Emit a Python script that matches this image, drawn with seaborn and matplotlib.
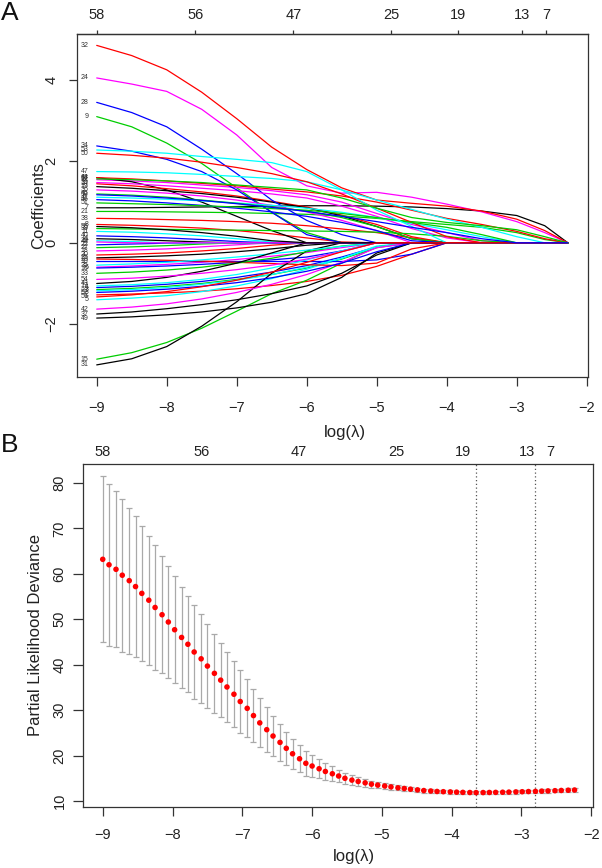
import matplotlib
matplotlib.use("Agg")
import matplotlib.pyplot as plt
import numpy as np
import pandas as pd
import seaborn as sns

sns.set_theme(style="white")
plt.rcParams['font.family'] = ['Liberation Sans', 'DejaVu Sans']

# ---- panel A: lasso coefficient paths, read at these log(lambda) knots ----
path_loglam = [-9.0, -8.5, -8.0, -7.5, -7.0, -6.5, -6.0, -5.5, -5.0, -4.5, -4.0, -3.5, -3.0, -2.6, -2.27]

coef_v1 = [0.10, 0.08, 0.05, 0.02, 0.00, 0.00, 0.00, 0.00, 0.00, 0.00, 0.00, 0.00, 0.00, 0.00, 0.00]
coef_v2 = [-1.28, -1.26, -1.23, -1.19, -1.13, -1.05, -0.95, -0.80, -0.58, -0.28, 0.00, 0.00, 0.00, 0.00, 0.00]
coef_v3 = [-1.15, -1.12, -1.07, -1.00, -0.90, -0.78, -0.62, -0.40, -0.12, 0.00, 0.00, 0.00, 0.00, 0.00, 0.00]
coef_v4 = [-1.10, -1.07, -1.02, -0.95, -0.85, -0.72, -0.56, -0.35, -0.10, 0.00, 0.00, 0.00, 0.00, 0.00, 0.00]
coef_v5 = [-1.40, -1.36, -1.30, -1.20, -1.06, -0.88, -0.65, -0.38, -0.08, 0.00, 0.00, 0.00, 0.00, 0.00, 0.00]
coef_v6 = [-0.60, -0.57, -0.53, -0.48, -0.41, -0.33, -0.24, -0.12, 0.00, 0.00, 0.00, 0.00, 0.00, 0.00, 0.00]
coef_v7 = [0.86, 0.86, 0.87, 0.88, 0.89, 0.90, 0.91, 0.91, 0.90, 0.88, 0.84, 0.78, 0.67, 0.42, 0.00]
coef_v8 = [0.45, 0.43, 0.40, 0.36, 0.30, 0.22, 0.12, 0.02, 0.00, 0.00, 0.00, 0.00, 0.00, 0.00, 0.00]
coef_v9 = [3.10, 2.85, 2.45, 1.95, 1.35, 0.75, 0.25, 0.00, 0.00, 0.00, 0.00, 0.00, 0.00, 0.00, 0.00]
coef_v10 = [-0.46, -0.46, -0.46, -0.46, -0.46, -0.46, -0.46, -0.46, -0.42, -0.28, 0.00, 0.00, 0.00, 0.00, 0.00]
coef_v11 = [0.28, 0.26, 0.22, 0.17, 0.10, 0.02, 0.00, 0.00, 0.00, 0.00, 0.00, 0.00, 0.00, 0.00, 0.00]
coef_v12 = [1.55, 1.52, 1.48, 1.42, 1.36, 1.28, 1.18, 1.00, 0.72, 0.45, 0.25, 0.05, 0.00, 0.00, 0.00]
coef_v13 = [1.60, 1.50, 1.30, 1.00, 0.65, 0.30, 0.00, 0.00, 0.00, 0.00, 0.00, 0.00, 0.00, 0.00, 0.00]
coef_v14 = [1.45, 1.40, 1.33, 1.25, 1.15, 1.02, 0.88, 0.68, 0.45, 0.15, 0.00, 0.00, 0.00, 0.00, 0.00]
coef_v15 = [-2.86, -2.70, -2.45, -2.10, -1.68, -1.25, -0.92, -0.50, -0.10, 0.00, 0.00, 0.00, 0.00, 0.00, 0.00]
coef_v16 = [-0.62, -0.60, -0.57, -0.53, -0.48, -0.42, -0.35, -0.20, 0.00, 0.00, 0.00, 0.00, 0.00, 0.00, 0.00]
coef_v17 = [-1.06, -1.03, -0.98, -0.90, -0.78, -0.62, -0.42, -0.20, 0.00, 0.00, 0.00, 0.00, 0.00, 0.00, 0.00]
coef_v18 = [-0.20, -0.18, -0.15, -0.10, -0.05, 0.00, 0.00, 0.00, 0.00, 0.00, 0.00, 0.00, 0.00, 0.00, 0.00]
coef_v19 = [1.38, 1.34, 1.28, 1.21, 1.12, 1.00, 0.86, 0.66, 0.40, 0.10, 0.00, 0.00, 0.00, 0.00, 0.00]
coef_v20 = [-0.30, -0.28, -0.25, -0.20, -0.14, -0.06, 0.00, 0.00, 0.00, 0.00, 0.00, 0.00, 0.00, 0.00, 0.00]
coef_v21 = [0.77, 0.77, 0.76, 0.75, 0.74, 0.72, 0.70, 0.66, 0.60, 0.52, 0.45, 0.38, 0.25, 0.08, 0.00]
coef_v22 = [-0.05, -0.03, -0.01, 0.00, 0.00, 0.00, 0.00, 0.00, 0.00, 0.00, 0.00, 0.00, 0.00, 0.00, 0.00]
coef_v23 = [-1.18, -1.15, -1.10, -1.02, -0.92, -0.78, -0.60, -0.38, -0.10, 0.00, 0.00, 0.00, 0.00, 0.00, 0.00]
coef_v24 = [4.05, 3.90, 3.72, 3.28, 2.65, 1.85, 1.40, 1.22, 1.24, 1.12, 0.95, 0.76, 0.52, 0.25, 0.00]
coef_v25 = [-0.37, -0.35, -0.32, -0.28, -0.22, -0.15, -0.06, 0.00, 0.00, 0.00, 0.00, 0.00, 0.00, 0.00, 0.00]
coef_v26 = [-0.40, -0.41, -0.43, -0.45, -0.48, -0.51, -0.54, -0.56, -0.50, -0.15, 0.00, 0.00, 0.00, 0.00, 0.00]
coef_v27 = [-0.12, -0.10, -0.07, -0.03, 0.00, 0.00, 0.00, 0.00, 0.00, 0.00, 0.00, 0.00, 0.00, 0.00, 0.00]
coef_v28 = [3.45, 3.20, 2.85, 2.30, 1.70, 1.05, 0.55, 0.20, 0.00, 0.00, 0.00, 0.00, 0.00, 0.00, 0.00]
coef_v29 = [0.05, 0.03, 0.00, 0.00, 0.00, 0.00, 0.00, 0.00, 0.00, 0.00, 0.00, 0.00, 0.00, 0.00, 0.00]
coef_v30 = [1.48, 1.45, 1.40, 1.34, 1.28, 1.20, 1.10, 0.90, 0.65, 0.35, 0.12, 0.00, 0.00, 0.00, 0.00]
coef_v31 = [-3.00, -2.85, -2.55, -2.05, -1.45, -0.75, -0.20, 0.00, 0.00, 0.00, 0.00, 0.00, 0.00, 0.00, 0.00]
coef_v32 = [4.85, 4.60, 4.25, 3.70, 3.05, 2.35, 1.80, 1.35, 1.05, 0.97, 0.90, 0.78, 0.58, 0.30, 0.00]
coef_v33 = [-0.75, -0.72, -0.67, -0.60, -0.50, -0.38, -0.22, -0.08, 0.00, 0.00, 0.00, 0.00, 0.00, 0.00, 0.00]
coef_v34 = [2.38, 2.25, 2.05, 1.75, 1.30, 0.75, 0.20, 0.00, 0.00, 0.00, 0.00, 0.00, 0.00, 0.00, 0.00]
coef_v35 = [-0.55, -0.52, -0.48, -0.42, -0.35, -0.27, -0.18, -0.09, 0.00, 0.00, 0.00, 0.00, 0.00, 0.00, 0.00]
coef_v36 = [1.30, 1.27, 1.22, 1.15, 1.05, 0.92, 0.76, 0.55, 0.30, 0.00, 0.00, 0.00, 0.00, 0.00, 0.00]
coef_v37 = [-1.75, -1.70, -1.62, -1.52, -1.40, -1.25, -1.06, -0.75, -0.30, 0.00, 0.00, 0.00, 0.00, 0.00, 0.00]
coef_v38 = [0.60, 0.59, 0.57, 0.55, 0.52, 0.48, 0.42, 0.34, 0.25, 0.12, 0.00, 0.00, 0.00, 0.00, 0.00]
coef_v39 = [0.35, 0.34, 0.33, 0.32, 0.31, 0.30, 0.29, 0.28, 0.26, 0.22, 0.16, 0.05, 0.00, 0.00, 0.00]
coef_v40 = [0.17, 0.15, 0.12, 0.08, 0.03, 0.00, 0.00, 0.00, 0.00, 0.00, 0.00, 0.00, 0.00, 0.00, 0.00]
coef_v41 = [1.12, 1.10, 1.07, 1.03, 0.98, 0.92, 0.85, 0.75, 0.62, 0.48, 0.32, 0.15, 0.00, 0.00, 0.00]
coef_v42 = [-1.63, -1.58, -1.50, -1.38, -1.22, -1.02, -0.78, -0.48, -0.12, 0.00, 0.00, 0.00, 0.00, 0.00, 0.00]
coef_v43 = [-1.00, -0.95, -0.85, -0.70, -0.50, -0.25, 0.00, 0.00, 0.00, 0.00, 0.00, 0.00, 0.00, 0.00, 0.00]
coef_v44 = [1.60, 1.57, 1.52, 1.46, 1.40, 1.32, 1.25, 1.15, 1.00, 0.80, 0.60, 0.45, 0.28, 0.10, 0.00]
coef_v45 = [1.20, 1.17, 1.12, 1.05, 0.97, 0.88, 0.78, 0.62, 0.40, 0.10, 0.00, 0.00, 0.00, 0.00, 0.00]
coef_v46 = [1.06, 1.03, 0.98, 0.92, 0.85, 0.76, 0.65, 0.50, 0.30, 0.05, 0.00, 0.00, 0.00, 0.00, 0.00]
coef_v47 = [1.75, 1.74, 1.72, 1.68, 1.63, 1.58, 1.50, 1.30, 1.05, 0.82, 0.58, 0.38, 0.15, 0.00, 0.00]
coef_v48 = [0.02, 0.00, 0.00, 0.00, 0.00, 0.00, 0.00, 0.00, 0.00, 0.00, 0.00, 0.00, 0.00, 0.00, 0.00]
coef_v49 = [-1.85, -1.82, -1.77, -1.70, -1.60, -1.46, -1.25, -0.85, -0.25, 0.00, 0.00, 0.00, 0.00, 0.00, 0.00]
coef_v50 = [2.20, 2.15, 2.08, 1.98, 1.85, 1.70, 1.50, 1.20, 0.85, 0.50, 0.15, 0.00, 0.00, 0.00, 0.00]
coef_v51 = [0.98, 0.96, 0.94, 0.91, 0.88, 0.84, 0.80, 0.72, 0.62, 0.50, 0.38, 0.20, 0.00, 0.00, 0.00]
coef_v52 = [-1.22, -1.19, -1.14, -1.07, -0.98, -0.86, -0.70, -0.50, -0.22, 0.00, 0.00, 0.00, 0.00, 0.00, 0.00]
coef_v53 = [2.28, 2.25, 2.20, 2.12, 2.05, 1.97, 1.75, 1.30, 0.80, 0.40, 0.00, 0.00, 0.00, 0.00, 0.00]
coef_v54 = [-0.90, -0.87, -0.82, -0.75, -0.66, -0.55, -0.40, -0.22, 0.00, 0.00, 0.00, 0.00, 0.00, 0.00, 0.00]
coef_v55 = [0.40, 0.37, 0.32, 0.25, 0.16, 0.05, 0.00, 0.00, 0.00, 0.00, 0.00, 0.00, 0.00, 0.00, 0.00]
coef_v56 = [-1.33, -1.28, -1.20, -1.08, -0.92, -0.72, -0.48, -0.22, 0.00, 0.00, 0.00, 0.00, 0.00, 0.00, 0.00]
coef_v57 = [1.57, 1.55, 1.52, 1.48, 1.42, 1.36, 1.30, 1.10, 0.85, 0.62, 0.50, 0.42, 0.32, 0.15, 0.00]
coef_v58 = [1.18, 1.15, 1.10, 1.04, 0.96, 0.87, 0.77, 0.65, 0.52, 0.38, 0.25, 0.10, 0.00, 0.00, 0.00]

# number of non-zero coefficients printed along the top of both panels
top_loglam = [-9.0, -7.59, -6.19, -4.79, -3.84, -2.92, -2.58]
top_nonzero = ["58", "56", "47", "25", "19", "13", "7"]

# ---- panel B: cross-validated partial likelihood deviance ----
cv_loglam = [-9.00, -8.91, -8.81, -8.72, -8.62, -8.53, -8.44, -8.34, -8.25, -8.15,
             -8.06, -7.97, -7.87, -7.78, -7.69, -7.59, -7.50, -7.40, -7.31, -7.22,
             -7.12, -7.03, -6.93, -6.84, -6.75, -6.65, -6.56, -6.46, -6.37, -6.28,
             -6.18, -6.09, -6.00, -5.90, -5.81, -5.71, -5.62, -5.53, -5.43, -5.34,
             -5.24, -5.15, -5.06, -4.96, -4.87, -4.77, -4.68, -4.59, -4.49, -4.40,
             -4.30, -4.21, -4.12, -4.02, -3.93, -3.84, -3.74, -3.65, -3.55, -3.46,
             -3.37, -3.27, -3.18, -3.08, -2.99, -2.90, -2.80, -2.71, -2.62, -2.52,
             -2.43, -2.33, -2.24]
cv_mean = [63.2, 62.0, 61.0, 59.7, 58.5, 57.2, 55.7, 54.2, 52.6, 51.0,
           49.4, 47.7, 46.0, 44.5, 42.8, 41.3, 39.7, 38.1, 36.6, 35.1,
           33.5, 31.9, 30.4, 28.8, 27.2, 25.7, 24.3, 22.9, 21.6, 20.4,
           19.3, 18.3, 17.7, 17.1, 16.5, 16.0, 15.5, 15.0, 14.6, 14.3,
           14.0, 13.7, 13.5, 13.3, 13.1, 12.9, 12.75, 12.6, 12.45, 12.3,
           12.2, 12.1, 12.05, 12.0, 11.95, 11.9, 11.87, 11.85, 11.86, 11.88,
           11.9, 11.93, 11.96, 12.0, 12.04, 12.08, 12.12, 12.17, 12.22, 12.27,
           12.32, 12.37, 12.42]
cv_se = [18.3, 17.8, 17.2, 16.8, 16.1, 15.5, 14.9, 14.2, 13.7, 12.9,
         12.3, 11.8, 11.2, 10.6, 10.3, 9.8, 9.3, 8.7, 8.2, 7.8,
         7.3, 6.9, 6.4, 5.9, 5.4, 4.9, 4.4, 4.0, 3.6, 3.3,
         3.0, 2.7, 2.4, 2.1, 1.85, 1.6, 1.4, 1.2, 1.05, 0.95,
         0.85, 0.78, 0.7, 0.64, 0.58, 0.54, 0.5, 0.47, 0.45, 0.43,
         0.41, 0.4, 0.38, 0.37, 0.36, 0.36, 0.35, 0.35, 0.35, 0.35,
         0.35, 0.35, 0.35, 0.35, 0.36, 0.36, 0.36, 0.37, 0.37, 0.38,
         0.38, 0.39, 0.4]
lambda_min_loglam = -3.65
lambda_1se_loglam = -2.80

coef_paths = [coef_v1, coef_v2, coef_v3, coef_v4, coef_v5, coef_v6, coef_v7, coef_v8, coef_v9, coef_v10,
              coef_v11, coef_v12, coef_v13, coef_v14, coef_v15, coef_v16, coef_v17, coef_v18, coef_v19, coef_v20,
              coef_v21, coef_v22, coef_v23, coef_v24, coef_v25, coef_v26, coef_v27, coef_v28, coef_v29, coef_v30,
              coef_v31, coef_v32, coef_v33, coef_v34, coef_v35, coef_v36, coef_v37, coef_v38, coef_v39, coef_v40,
              coef_v41, coef_v42, coef_v43, coef_v44, coef_v45, coef_v46, coef_v47, coef_v48, coef_v49, coef_v50,
              coef_v51, coef_v52, coef_v53, coef_v54, coef_v55, coef_v56, coef_v57, coef_v58]
var_ids = list(range(1, len(coef_paths) + 1))

# R's classic matplot colour cycle
r_cols = ["#000000", "#FF0000", "#00CD00", "#0000FF", "#00FFFF", "#FF00FF"]
pal = {v: r_cols[(v - 1) % 6] for v in var_ids}

rows = []
for vid, vals in zip(var_ids, coef_paths):
    for x, y in zip(path_loglam, vals):
        rows.append((x, y, vid))
coef_df = pd.DataFrame(rows, columns=["loglam", "coef", "var"])

W, H = 602, 868
fig = plt.figure(figsize=(W / 100, H / 100), dpi=100)
ink = "#222222"


def style_box(ax):
    for s in ax.spines.values():
        s.set_visible(True)
        s.set_color("#333333")
        s.set_linewidth(0.9)
    ax.grid(False)


# ----- panel A -----
ax1 = fig.add_axes([76.7 / W, (H - 377.5) / H, 511 / W, 343.5 / H])
sns.lineplot(data=coef_df, x="loglam", y="coef", hue="var", hue_order=var_ids, palette=pal,
             estimator=None, sort=False, legend=False, linewidth=0.9, ax=ax1)
for vid, vals in zip(var_ids, coef_paths):
    ax1.text(-9.12, vals[0], str(vid), ha="right", va="center", fontsize=5.0, color="#333333")

ax1.set_xlim(-9.286, -1.986)
ax1.set_ylim(-3.31, 5.13)
ax1.set_xticks(range(-9, -1))
ax1.set_yticks([-2, 0, 2, 4])
style_box(ax1)
ax1.tick_params(axis="x", bottom=True, length=6.5, width=0.9, color="#333333", pad=10.5,
                labelsize=10.5, labelcolor=ink)
ax1.tick_params(axis="y", left=True, length=6, width=0.9, color="#333333", pad=7,
                labelsize=10.5, labelcolor=ink, labelrotation=90)
for lab in ax1.get_yticklabels():
    lab.set_va("center")

ax1.set_xlabel("log(λ)", fontsize=12, color=ink)
ax1.xaxis.set_label_coords((345 - 76.7) / 511, -(432.5 - 377.5) / 343.5)
ax1.xaxis.label.set_va("center")
ax1.set_ylabel("Coefficients", fontsize=12, color=ink)
ax1.yaxis.set_label_coords(-(76.7 - 39) / 511, 0.5)
ax1.yaxis.label.set_va("center")

top1 = ax1.secondary_xaxis("top")
top1.set_xticks(top_loglam, labels=top_nonzero)
top1.tick_params(axis="x", top=True, length=3, width=0.9, color="#333333", pad=5.5,
                 labelsize=10.5, labelcolor=ink)
top1.spines["top"].set_color("#333333")
top1.spines["top"].set_linewidth(0.9)

# ----- panel B -----
ax2 = fig.add_axes([82.7 / W, (H - 807) / H, 510.6 / W, 343 / H])
ax2.errorbar(cv_loglam, cv_mean, yerr=cv_se, fmt="none", ecolor="#A9A9A9",
             elinewidth=0.9, capsize=2.0, capthick=0.9, zorder=2)
sns.scatterplot(x=cv_loglam, y=cv_mean, color="#FF0000", s=16, edgecolor="none",
                legend=False, ax=ax2, zorder=3)
for xv in [lambda_min_loglam, lambda_1se_loglam]:
    ax2.axvline(xv, color="#555555", linewidth=0.9, linestyle=(0, (1, 2)), zorder=1)

ax2.set_xlim(-9.287, -1.971)
ax2.set_ylim(8.68, 84.18)
ax2.set_xticks(range(-9, -1))
ax2.set_yticks(range(10, 81, 10))
style_box(ax2)
ax2.tick_params(axis="x", bottom=True, length=6.5, width=0.9, color="#333333", pad=8.5,
                labelsize=10.5, labelcolor=ink)
ax2.tick_params(axis="y", left=True, length=7, width=0.9, color="#333333", pad=4.6,
                labelsize=10.5, labelcolor=ink, labelrotation=90)
for lab in ax2.get_yticklabels():
    lab.set_va("center")

ax2.set_xlabel("log(λ)", fontsize=12, color=ink)
ax2.xaxis.set_label_coords((354 - 82.7) / 510.6, -(857 - 807) / 343)
ax2.xaxis.label.set_va("center")
ax2.set_ylabel("Partial Likelihood Deviance", fontsize=12, color=ink)
ax2.yaxis.set_label_coords(-(82.7 - 35.5) / 510.6, 0.5)
ax2.yaxis.label.set_va("center")

top2 = ax2.secondary_xaxis("top")
top2.set_xticks(top_loglam, labels=top_nonzero)
top2.tick_params(axis="x", top=True, length=0, pad=3.5, labelsize=10.5, labelcolor=ink)
top2.spines["top"].set_visible(False)

# panel letters
fig.text(10 / W, 1 - 13 / H, "A", fontsize=19, ha="center", va="center", color="#111111")
fig.text(10 / W, 1 - 445 / H, "B", fontsize=19, ha="center", va="center", color="#111111")

fig.savefig("out.png", dpi=100)
plt.close(fig)
